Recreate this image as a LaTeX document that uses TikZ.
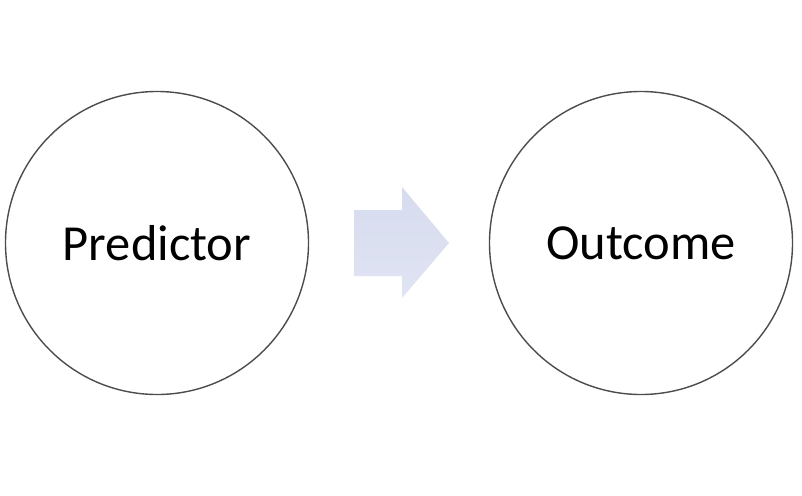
\documentclass[tikz,border=0pt]{standalone}
\usepackage{fontspec}
\setmainfont{Carlito}
\begin{document}
\begin{tikzpicture}[x=1pt,y=-1pt,
  bubble/.style={circle,draw=black!70,line width=1.4pt,minimum size=303pt,inner sep=0pt,font=\fontsize{50.5}{56}\selectfont},
  fatarrow/.style={top color=arrtop,bottom color=arrbot,draw=none}]
\definecolor{arrtop}{RGB}{214,219,238}
\definecolor{arrbot}{RGB}{224,228,243}
\useasboundingbox (0,0) rectangle (802,495);
\node[bubble] (pred) at (157,243) {Predictor};
\node[bubble] (out) at (641,243) {Outcome};
\path[fatarrow] (354,210) -- (402,210) -- (402,187) -- (449,243) -- (402,298) -- (402,276) -- (354,276) -- cycle;
\end{tikzpicture}
\end{document}
